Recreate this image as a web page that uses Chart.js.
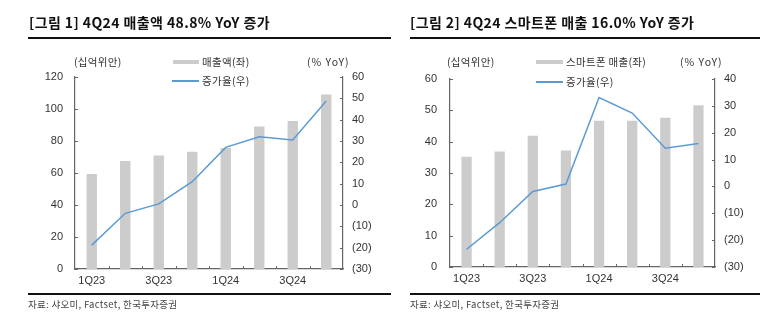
<!DOCTYPE html>
<html>
<head>
<meta charset="utf-8">
<script src="https://cdn.jsdelivr.net/npm/chart.js@4"></script>
<style>
  body { margin: 0; background: #fff; font-family: "Noto Sans CJK KR", "Liberation Sans", sans-serif; }
  .wrap { position: relative; width: 782px; height: 327px; }
  .panel { position: absolute; top: 0; width: 391px; height: 327px; }
  .panel canvas { position: absolute; left: 0; top: 0; }
  .title { position: absolute; top: 12px; font-size: 14px; font-weight: bold; color: #111; white-space: nowrap; letter-spacing: 0.4px; }
  .rule { position: absolute; background: #111; }
  .src { position: absolute; top: 297px; font-size: 9.5px; color: #444; white-space: nowrap; letter-spacing: 0.3px; }
  .lbl { position: absolute; font-size: 10.5px; color: #333; white-space: nowrap; line-height: 12px; letter-spacing: 0.3px; }
  .box { position: absolute; height: 4px; background: #cccccc; }
  .ln { position: absolute; height: 1.5px; background: #5b9bd5; }
</style>
</head>
<body>
<div class="wrap">
  <div class="panel" style="left:0">
    <canvas id="chart1" width="391" height="327"></canvas>
    <div class="title" style="left:29px">[그림 1] 4Q24 매출액 48.8% YoY 증가</div>
    <div class="rule" style="left:28px; width:363px; top:37px; height:2px"></div>
    <div class="lbl" style="left:74px; top:56px">(십억위안)</div>
    <div class="box" style="left:173px; width:26px; top:60px"></div>
    <div class="lbl" style="left:202px; top:56px">매출액(좌)</div>
    <div class="ln" style="left:172px; width:27px; top:80px"></div>
    <div class="lbl" style="left:202px; top:75px">증가율(우)</div>
    <div class="lbl" style="left:307px; top:56px; letter-spacing:1px">(% YoY)</div>
    <div class="rule" style="left:28px; width:363px; top:293px; height:1.5px"></div>
    <div class="src" style="left:28px">자료: 샤오미, Factset, 한국투자증권</div>
  </div>
  <div class="panel" style="left:391px">
    <canvas id="chart2" width="391" height="327"></canvas>
    <div class="title" style="left:19px">[그림 2] 4Q24 스마트폰 매출 16.0% YoY 증가</div>
    <div class="rule" style="left:19px; width:350px; top:37px; height:2px"></div>
    <div class="lbl" style="left:56px; top:56px">(십억위안)</div>
    <div class="box" style="left:145px; width:27px; top:60px"></div>
    <div class="lbl" style="left:175px; top:56px">스마트폰 매출(좌)</div>
    <div class="ln" style="left:145px; width:27px; top:81px"></div>
    <div class="lbl" style="left:175px; top:76px">증가율(우)</div>
    <div class="lbl" style="left:289px; top:56px; letter-spacing:1px">(% YoY)</div>
    <div class="rule" style="left:19px; width:350px; top:293px; height:1.5px"></div>
    <div class="src" style="left:19px">자료: 샤오미, Factset, 한국투자증권</div>
  </div>
</div>
<script>
const quarters = ['1Q23', '2Q23', '3Q23', '4Q23', '1Q24', '2Q24', '3Q24', '4Q24'];

// 그림 1: 매출액 (십억위안), 증가율 (% YoY)
const revenue = [59.4, 67.5, 71.0, 73.3, 75.6, 89.0, 92.5, 109.0];
const revenueYoY = [-18.8, -3.9, 0.5, 10.9, 27.0, 32.0, 30.5, 48.8];

// 그림 2: 스마트폰 매출 (십억위안), 증가율 (% YoY)
const phoneSales = [35.2, 36.9, 41.9, 37.2, 46.7, 46.7, 47.6, 51.6];
const phoneYoY = [-23.4, -13.5, -1.9, 0.9, 33.1, 27.3, 14.2, 16.0];

const axisColor = '#666';
const tickFont = { family: '"Liberation Sans", Arial, sans-serif', size: 11 };

// short tick marks drawn on the inner side of each axis
const innerTicks = {
  id: 'innerTicks',
  afterDraw(chart) {
    const ctx = chart.ctx;
    const { x, y, y2 } = chart.scales;
    const len = 3;
    ctx.save();
    ctx.strokeStyle = axisColor;
    ctx.lineWidth = 1;
    ctx.beginPath();
    y.ticks.forEach((t, i) => {
      const py = Math.round(y.getPixelForTick(i)) + 0.5;
      ctx.moveTo(y.right, py); ctx.lineTo(y.right + len, py);
    });
    y2.ticks.forEach((t, i) => {
      const py = Math.round(y2.getPixelForTick(i)) + 0.5;
      ctx.moveTo(y2.left, py); ctx.lineTo(y2.left - len, py);
    });
    for (let i = 1; i < quarters.length; i++) {
      const px = Math.round((x.getPixelForValue(i - 1) + x.getPixelForValue(i)) / 2) + 0.5;
      ctx.moveTo(px, x.top); ctx.lineTo(px, x.top - len);
    }
    ctx.stroke();
    ctx.restore();
  }
};

function paren(v) {
  return v < 0 ? '(' + Math.abs(v) + ')' : String(v);
}

function makeChart(id, bars, line, leftAxis, rightAxis, box) {
  return new Chart(document.getElementById(id), {
    type: 'bar',
    data: {
      labels: quarters,
      datasets: [{
        type: 'line',
        data: line,
        yAxisID: 'y2',
        borderColor: '#5b9bd5',
        borderWidth: 1.5,
        pointRadius: 0,
        tension: 0,
        order: 0
      }, {
        data: bars,
        yAxisID: 'y',
        backgroundColor: '#cccccc',
        barPercentage: 0.31,
        categoryPercentage: 1,
        order: 1
      }]
    },
    options: {
      responsive: false,
      animation: false,
      layout: { padding: { top: box.top, left: 0, right: 0, bottom: 0 } },
      plugins: { legend: { display: false }, tooltip: { enabled: false } },
      scales: {
        x: {
          offset: true,
          grid: { display: false, drawTicks: false },
          border: { color: axisColor, width: 1.2 },
          ticks: {
            color: '#333', font: tickFont, padding: 5, autoSkip: false, maxRotation: 0,
            callback: (v, i) => i % 2 === 0 ? quarters[i] : ''
          },
          afterFit: s => { s.height = 327 - box.bottom; }
        },
        y: {
          position: 'left',
          min: leftAxis.min, max: leftAxis.max,
          grid: { display: false, drawTicks: false },
          border: { color: axisColor, width: 1.2 },
          ticks: { stepSize: leftAxis.step, color: '#333', font: tickFont, padding: leftAxis.pad },
          afterFit: s => { s.width = box.left; }
        },
        y2: {
          position: 'right',
          min: rightAxis.min, max: rightAxis.max,
          grid: { display: false, drawTicks: false },
          border: { color: axisColor, width: 1.2 },
          ticks: { stepSize: 10, color: '#333', font: tickFont, padding: rightAxis.pad, callback: paren },
          afterFit: s => { s.width = 391 - box.right; }
        }
      }
    },
    plugins: [innerTicks]
  });
}

makeChart('chart1', revenue, revenueYoY,
  { min: 0, max: 120, step: 20, pad: 12 },
  { min: -30, max: 60, pad: 9 },
  { left: 75, right: 343, top: 77, bottom: 269 });

makeChart('chart2', phoneSales, phoneYoY,
  { min: 0, max: 60, step: 10, pad: 13 },
  { min: -30, max: 40, pad: 9 },
  { left: 59, right: 324, top: 79, bottom: 267 });
</script>
</body>
</html>
